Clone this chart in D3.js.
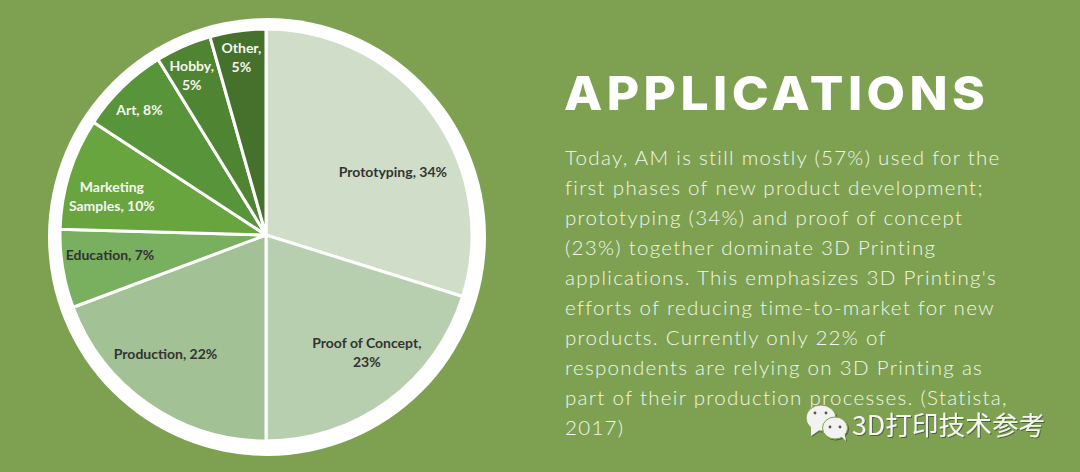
<!DOCTYPE html>
<html>
<head>
<meta charset="utf-8">
<script src="https://cdn.jsdelivr.net/npm/d3@7"></script>
<style>
  html, body { margin: 0; padding: 0; background: #7ea151; overflow: hidden; }
  svg { display: block; }
</style>
</head>
<body>
<div id="chart"></div>
<script>
const categories = ["Prototyping", "Proof of Concept", "Production", "Education", "Marketing Samples", "Art", "Hobby", "Other"];
const shares = [34, 23, 22, 7, 10, 8, 5, 5];
const sliceColors = ["#d0dec9", "#b7cfae", "#a2c194", "#79b05f", "#68a53f", "#58943a", "#4f8433", "#46712c"];
const labelColors = ["#333", "#333", "#333", "#333", "#f4f7ee", "#f4f7ee", "#f4f7ee", "#f4f7ee"];
const labelLines = [
  ["Prototyping, 34%"],
  ["Proof of Concept,", "23%"],
  ["Production, 22%"],
  ["Education, 7%"],
  ["Marketing", "Samples, 10%"],
  ["Art, 8%"],
  ["Hobby,", "5%"],
  ["Other,", "5%"]
];
// pushes each label off the centroid, best-fit placement in the original
const labelNudge = [[6, 26], [12, -3], [-15, -4], [-8, -4], [-11, 7], [-22, -17], [-14, -22], [-4, -28]];

const title = "APPLICATIONS";
const bodyLines = [
  "Today, AM is still mostly (57%) used for the",
  "first phases of new product development;",
  "prototyping (34%) and proof of concept",
  "(23%) together dominate 3D Printing",
  "applications. This emphasizes 3D Printing's",
  "efforts of reducing time-to-market for new",
  "products. Currently only 22% of",
  "respondents are relying on 3D Printing as",
  "part of their production processes. (Statista,",
  "2017)"
];
const watermark = "3D打印技术参考";

const width = 1080, height = 472;
const cx = 266, cy = 235, radius = 206;

const svg = d3
  .select("#chart")
  .append("svg")
  .attr("width", width)
  .attr("height", height);

const defs = svg.append("defs");
defs.append("filter")
  .attr("id", "shadow")
  .attr("x", "-10%").attr("y", "-10%").attr("width", "120%").attr("height", "130%")
  .append("feDropShadow")
  .attr("dx", 1).attr("dy", 1).attr("stdDeviation", 0.6)
  .attr("flood-color", "#333").attr("flood-opacity", 0.6);

svg.append("rect")
  .attr("width", width)
  .attr("height", height)
  .attr("fill", "#7ea151");

const pieG = svg.append("g").attr("transform", "translate(" + cx + "," + cy + ")");

// white ring sits a touch low and right of the pie
pieG.append("circle")
  .attr("cx", 1)
  .attr("cy", 2)
  .attr("r", 219)
  .attr("fill", "#fff");

const pie = d3.pie().sort(null).value((d, i) => shares[i]);
const arc = d3.arc().innerRadius(0).outerRadius(radius);
const labelArc = d3.arc().innerRadius(150).outerRadius(150);
const arcs = pie(categories);

pieG.selectAll("path.slice")
  .data(arcs)
  .enter()
  .append("path")
  .attr("class", "slice")
  .attr("d", arc)
  .attr("fill", (d, i) => sliceColors[i])
  .attr("stroke", "#fff")
  .attr("stroke-width", 3);

const labels = pieG.selectAll("text.label")
  .data(arcs)
  .enter()
  .append("text")
  .attr("class", "label")
  .attr("text-anchor", "middle")
  .attr("font-family", "Lato, sans-serif")
  .attr("font-weight", 700)
  .attr("font-size", 14)
  .attr("fill", (d, i) => labelColors[i])
  .attr("transform", function (d, i) {
    const c = labelArc.centroid(d);
    return "translate(" + (c[0] + labelNudge[i][0]) + "," + (c[1] + labelNudge[i][1]) + ")";
  });

labels.each(function (d, i) {
  const lines = labelLines[i];
  d3.select(this).selectAll("tspan")
    .data(lines)
    .enter()
    .append("tspan")
    .attr("x", 0)
    .attr("y", (l, j) => (j - (lines.length - 1) / 2) * 19 + 4.5)
    .text((l) => l);
});

svg.append("text")
  .attr("transform", "translate(564,110) scale(1.06,1)")
  .attr("font-family", "Inter, sans-serif")
  .attr("font-weight", 800)
  .attr("font-size", 47)
  .attr("letter-spacing", 4.15)
  .attr("fill", "#fff")
  .text(title);

svg.append("g")
  .selectAll("text")
  .data(bodyLines)
  .enter()
  .append("text")
  .attr("x", 565)
  .attr("y", (d, i) => 165 + i * 30)
  .attr("font-family", "Lato, sans-serif")
  .attr("font-weight", 300)
  .attr("font-size", 20.5)
  .attr("letter-spacing", 1.3)
  .attr("fill", "#f1f6ea")
  .text((d) => d);

// wechat logo + account name
const wm = svg.append("g").attr("filter", "url(#shadow)");
const bubbles = [
  { x: 821, y: 418, rx: 15, ry: 13, tail: "M811,426 L811,436 L821,429 Z" },
  { x: 835, y: 428, rx: 12.5, ry: 11, tail: "M841,436 L846,441 L844,431 Z" }
];
bubbles.forEach((b) => {
  wm.append("ellipse")
    .attr("cx", b.x).attr("cy", b.y).attr("rx", b.rx).attr("ry", b.ry)
    .attr("fill", "#f2f2f0").attr("stroke", "#7ea151").attr("stroke-width", 1);
  wm.append("path").attr("d", b.tail).attr("fill", "#f2f2f0");
});
[[815, 413], [826, 413], [830, 427], [840, 427]].forEach((p) => {
  wm.append("circle").attr("cx", p[0]).attr("cy", p[1]).attr("r", 1.4).attr("fill", "#555");
});

wm.append("text")
  .attr("x", 852)
  .attr("y", 435)
  .attr("font-family", "'Noto Sans CJK SC', sans-serif")
  .attr("font-size", 26.7)
  .attr("fill", "#f5f5f2")
  .text(watermark);
</script>
</body>
</html>
